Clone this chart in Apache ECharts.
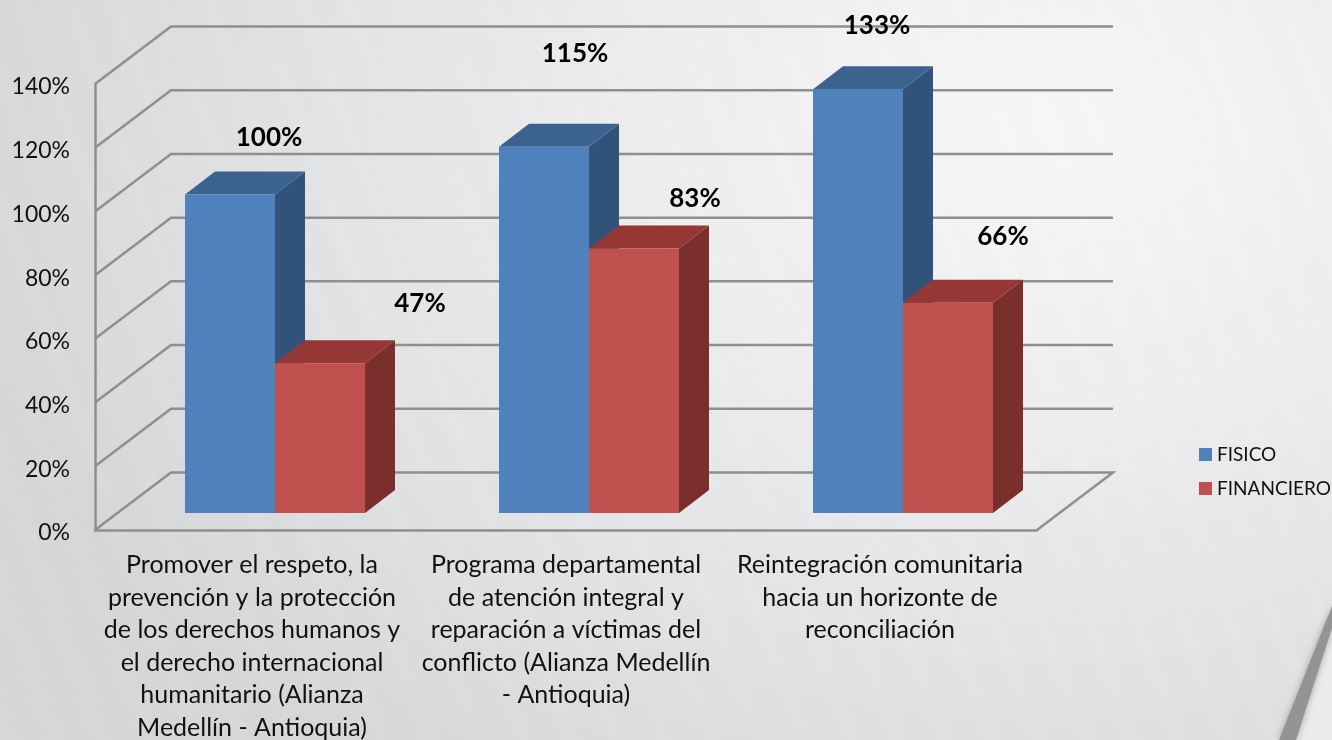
<!DOCTYPE html>
<html>
<head>
<meta charset="utf-8">
<title>Avance fisico y financiero</title>
<script src="https://cdn.jsdelivr.net/npm/echarts@6/dist/echarts.min.js"></script>
<style>
  html, body { margin: 0; padding: 0; }
  body {
    width: 1332px;
    height: 740px;
    overflow: hidden;
    background:
      repeating-linear-gradient(70deg, rgba(255,255,255,0.02) 0 16px, rgba(0,0,0,0.004) 16px 44px),
      radial-gradient(ellipse 1100px 800px at 1050px 130px, #f7f7f8 0%, #eeeeef 35%, #e2e3e5 68%, #d6d7d9 100%),
      #d6d7d9;
  }
  #chart { width: 1332px; height: 740px; }
</style>
</head>
<body>
<div id="chart"></div>
<script>
const categories = [
  'Promover el respeto, la\nprevención y la protección\nde los derechos humanos y\nel derecho internacional\nhumanitario (Alianza\nMedellín - Antioquia)',
  'Programa departamental\nde atención integral y\nreparación a víctimas del\nconflicto (Alianza Medellín\n- Antioquia)',
  'Reintegración comunitaria\nhacia un horizonte de\nreconciliación'
];
const fisico = [100, 115, 133];
const financiero = [47, 83, 66];
const yTicks = [0, 20, 40, 60, 80, 100, 120, 140];

// hand placed labels in the original, offset from the top centre of each bar
const fisicoLabelOffset = [[39, -57], [31, -93], [19, -64]];
const financieroLabelOffset = [[100, -60], [61, -50], [55, -66]];

const FONT = 'Lato, "Open Sans", sans-serif';
const WALL_DX = 76;
const WALL_DY = -57.5;
const BAR_W = 90;
const DEPTH_DX = 30;
const DEPTH_DY = -23;
const FLOOR_DX = 23;
const FLOOR_DY = -17;

const renderWall = (params, api) => {
  const rect = params.coordSys;
  const v = api.value(1);
  const y = api.coord([0, v])[1];
  const x0 = rect.x;
  const x1 = rect.x + rect.width;
  const points = [[x0, y], [x0 + WALL_DX, y + WALL_DY], [x1 + WALL_DX, y + WALL_DY]];
  if (v === 0) points.push([x1, y]);
  return {
    type: 'polyline',
    shape: { points },
    style: { fill: 'none', stroke: '#8f8f8f', lineWidth: 2.5 }
  };
};

const makeBarRenderer = (side, colors, labelOffset) => (params, api) => {
  const idx = api.value(0);
  const v = api.value(1);
  const top = api.coord([idx, v]);
  const base = api.coord([idx, 0]);
  const x0 = top[0] + FLOOR_DX + (side < 0 ? -BAR_W : 0);
  const x1 = x0 + BAR_W;
  const yTop = top[1] + FLOOR_DY;
  const yBase = base[1] + FLOOR_DY;
  const off = labelOffset[params.dataIndex];
  return {
    type: 'group',
    children: [
      {
        type: 'polygon',
        shape: { points: [[x1, yTop], [x1 + DEPTH_DX, yTop + DEPTH_DY], [x1 + DEPTH_DX, yBase + DEPTH_DY], [x1, yBase]] },
        style: { fill: colors.side }
      },
      {
        type: 'polygon',
        shape: { points: [[x0, yTop], [x0 + DEPTH_DX, yTop + DEPTH_DY], [x1 + DEPTH_DX, yTop + DEPTH_DY], [x1, yTop]] },
        style: { fill: colors.top }
      },
      {
        type: 'rect',
        shape: { x: x0, y: yTop, width: BAR_W, height: yBase - yTop },
        style: { fill: colors.front }
      },
      {
        type: 'text',
        z2: 10,
        style: {
          x: (x0 + x1) / 2 + off[0],
          y: yTop + off[1],
          text: v + '%',
          fill: '#000',
          font: 'bold 26px ' + FONT,
          align: 'center',
          verticalAlign: 'middle'
        }
      }
    ]
  };
};

const blue = { front: '#4f81bd', top: '#3c6290', side: '#325379' };
const red = { front: '#c0504d', top: '#953735', side: '#7b2f2d' };

const chart = echarts.init(document.getElementById('chart'), null, { renderer: 'canvas' });

chart.setOption({
  backgroundColor: 'transparent',
  animation: false,
  textStyle: { fontFamily: FONT },
  legend: {
    data: ['FISICO', 'FINANCIERO'],
    orient: 'vertical',
    left: 1199,
    top: 445,
    padding: 0,
    icon: 'rect',
    itemWidth: 13,
    itemHeight: 13,
    itemGap: 15,
    selectedMode: false,
    textStyle: { color: '#111', fontSize: 19, fontFamily: FONT }
  },
  grid: { left: 95, top: 84, width: 942, height: 446, outerBoundsMode: 'none' },
  xAxis: {
    type: 'category',
    data: categories,
    axisLine: { show: true, lineStyle: { color: '#8f8f8f', width: 2.5 } },
    axisTick: { show: false },
    axisLabel: {
      interval: 0,
      color: '#111',
      fontSize: 25,
      lineHeight: 32.5,
      margin: 19,
      fontFamily: FONT
    }
  },
  yAxis: {
    type: 'value',
    min: 0,
    max: 140,
    interval: 20,
    axisLine: { show: true, lineStyle: { color: '#8f8f8f', width: 2.5 } },
    axisTick: { show: false },
    splitLine: { show: false },
    axisLabel: {
      formatter: (v) => '{t|' + v + '%}',
      margin: 25,
      rich: {
        t: { color: '#111', fontSize: 23, fontFamily: FONT, padding: [6, 0, 0, 0] }
      }
    }
  },
  graphic: [
    {
      // swoosh in the lower right corner of the slide background
      type: 'polygon',
      silent: true,
      z: -2,
      shape: { points: [[1332, 625], [1295, 740], [1332, 740]] },
      style: { fill: '#ebebed' }
    },
    {
      type: 'polygon',
      silent: true,
      z: -1,
      shape: { points: [[1332, 606], [1332, 628], [1296, 740], [1279, 740]] },
      style: { fill: '#949496', shadowBlur: 7, shadowColor: 'rgba(110,110,110,0.55)' }
    }
  ],
  series: [
    {
      type: 'custom',
      name: 'muros',
      renderItem: renderWall,
      data: yTicks.map((v) => [0, v]),
      encode: { x: 0, y: 1 },
      silent: true,
      z: 1
    },
    {
      type: 'custom',
      name: 'FISICO',
      itemStyle: { color: blue.front },
      renderItem: makeBarRenderer(-1, blue, fisicoLabelOffset),
      data: fisico.map((v, i) => [i, v]),
      encode: { x: 0, y: 1 },
      z: 2
    },
    {
      type: 'custom',
      name: 'FINANCIERO',
      itemStyle: { color: red.front },
      renderItem: makeBarRenderer(1, red, financieroLabelOffset),
      data: financiero.map((v, i) => [i, v]),
      encode: { x: 0, y: 1 },
      z: 3
    }
  ]
});
</script>
</body>
</html>
